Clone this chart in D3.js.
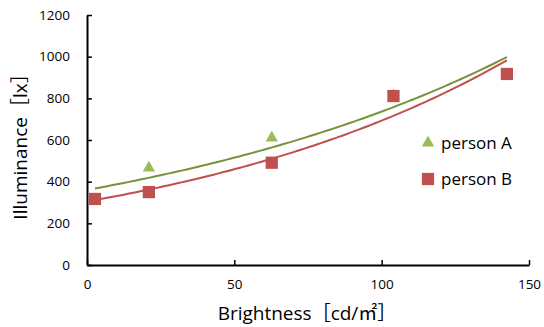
<!doctype html>
<html lang="en">
  <head>
    <style>
      body { margin: 0; background: #fff; }
      text { font-family: "Open Sans", "Noto Sans CJK JP", sans-serif; fill: #000; }
    </style>
  </head>
  <body>
    <div id="chart"></div>
    <script src="https://cdn.jsdelivr.net/npm/d3@7"></script>
    <script>
      // values
      const brightness = [2.7, 21, 62.7, 104, 142.5]
      const personA = [314, 466, 610, 812, 905]
      const personB = [317, 350, 491, 811, 917]
      const seriesNames = ['person A', 'person B']
      const xTicks = [0, 50, 100, 150]
      const yTicks = [0, 200, 400, 600, 800, 1000, 1200]

      const width = 544
      const height = 327
      const margin = { left: 87, right: 15, top: 15, bottom: 63 }

      const svg = d3.select('#chart').append('svg')
        .attr('width', width)
        .attr('height', height)

      const x = d3.scaleLinear().domain([0, 150]).range([margin.left, width - margin.right])
      const y = d3.scaleLinear().domain([0, 1200]).range([height - margin.bottom + 1, margin.top])

      // exponential trend line, least squares on ln(y)
      function expFit(xs, ys) {
        const ly = ys.map(Math.log)
        const mx = d3.mean(xs), my = d3.mean(ly)
        let sxy = 0, sxx = 0
        xs.forEach((v, i) => { sxy += (v - mx) * (ly[i] - my); sxx += (v - mx) ** 2 })
        const b = sxy / sxx
        const a = Math.exp(my - b * mx)
        return v => a * Math.exp(b * v)
      }

      const xAxis = d3.axisBottom(x).tickValues(xTicks).tickFormat(d3.format('d'))
        .tickSizeInner(-5).tickSizeOuter(0).tickPadding(14)
      const yAxis = d3.axisLeft(y).tickValues(yTicks).tickFormat(d3.format('d'))
        .tickSizeInner(-5).tickSizeOuter(0).tickPadding(17)

      const gx = svg.append('g')
        .attr('transform', `translate(0, ${y(0)})`)
        .call(xAxis)
      const gy = svg.append('g')
        .attr('transform', `translate(${x(0)}, 0)`)
        .call(yAxis)

      for (const g of [gx, gy]) {
        g.select('.domain').attr('stroke', '#000').attr('stroke-width', 2)
        g.selectAll('.tick line').attr('stroke', '#000').attr('stroke-width', 1.5)
        g.selectAll('.tick text').attr('font-size', 13.5).attr('fill', '#000')
          .style('font-family', '"Open Sans", sans-serif')
      }

      const series = [
        { name: seriesNames[0], values: personA, line: '#77933C', fill: '#9BBB59', shape: d3.symbolTriangle, size: 66 },
        { name: seriesNames[1], values: personB, line: '#C0504D', fill: '#C0504D', shape: d3.symbolSquare, size: 150 }
      ]

      const lineGen = d3.line().x(d => x(d[0])).y(d => y(d[1]))
      series.forEach(s => {
        const f = expFit(brightness, s.values)
        const xs = d3.range(0, 101).map(i => brightness[0] + (brightness[4] - brightness[0]) * i / 100)
        svg.append('path')
          .attr('d', lineGen(xs.map(v => [v, f(v)])))
          .attr('fill', 'none')
          .attr('stroke', s.line)
          .attr('stroke-width', 2)
      })

      series.forEach(s => {
        svg.append('g').selectAll('path')
          .data(s.values)
          .join('path')
            .attr('transform', (d, i) => `translate(${x(brightness[i])}, ${y(d)})`)
            .attr('d', d3.symbol(s.shape, s.size))
            .attr('fill', s.fill)
      })

      // legend
      const legend = svg.append('g').attr('transform', 'translate(428, 143)')
      series.forEach((s, i) => {
        legend.append('path')
          .attr('transform', `translate(0, ${i * 36})`)
          .attr('d', d3.symbol(s.shape, s.size))
          .attr('fill', s.fill)
        legend.append('text')
          .attr('x', 13)
          .attr('y', i * 36 + 6)
          .attr('font-size', 17)
          .text(s.name)
      })

      // axis titles
      svg.append('text')
        .attr('x', 307)
        .attr('y', 320)
        .attr('text-anchor', 'middle')
        .attr('font-size', 19)
        .text('Brightness［cd/㎡］')

      svg.append('text')
        .attr('transform', `translate(27, ${y(600) + 2}) rotate(-90)`)
        .attr('text-anchor', 'middle')
        .attr('font-size', 19)
        .text('Illuminance［lx］')
    </script>
  </body>
</html>
